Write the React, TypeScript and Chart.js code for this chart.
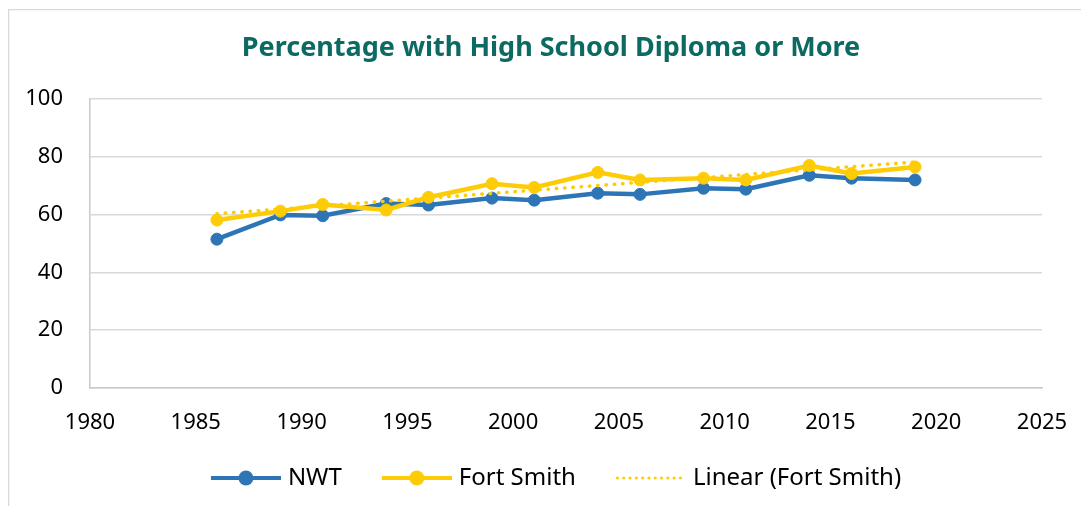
import React, { useEffect, useRef } from "react";
import { Chart, registerables } from "chart.js";

Chart.register(...registerables);

// ---- data ----
const years = [1986, 1989, 1991, 1994, 1996, 1999, 2001, 2004, 2006, 2009, 2011, 2014, 2016, 2019];
const nwtValues = [51.5, 59.9, 59.6, 63.8, 63.3, 65.7, 65.0, 67.4, 67.0, 69.1, 68.8, 73.6, 72.6, 72.0];
const fortSmithValues = [58.1, 61.2, 63.5, 61.6, 66.0, 70.7, 69.4, 74.6, 72.0, 72.6, 72.0, 77.0, 74.2, 76.5];
const trendYears = [1986, 2019];
const trendValues = [60.3, 78.2];
const seriesLabels = ["NWT", "Fort Smith", "Linear (Fort Smith)"];
const titleText = "Percentage with High School Diploma or More";
const xTickRange = [1980, 2025, 5];
const yTickRange = [0, 100, 20];

const BLUE = "#2E75B6";
const YELLOW = "#FECC07";
const FONT = "'Noto Sans', 'Open Sans', sans-serif";

function makeMarker(color: string, kind: "line" | "dots"): HTMLCanvasElement {
  const c = document.createElement("canvas");
  c.width = 85;
  c.height = 18;
  const ctx = c.getContext("2d")!;
  ctx.strokeStyle = color;
  ctx.fillStyle = color;
  const x0 = 15;
  const cy = 9;
  if (kind === "line") {
    ctx.lineWidth = 4;
    ctx.beginPath();
    ctx.moveTo(x0, cy);
    ctx.lineTo(x0 + 70, cy);
    ctx.stroke();
    ctx.beginPath();
    ctx.arc(x0 + 35, cy, 7.5, 0, Math.PI * 2);
    ctx.fill();
  } else {
    for (let x = x0 + 1.5; x < x0 + 70; x += 6.3) {
      ctx.beginPath();
      ctx.arc(x, cy, 1.6, 0, Math.PI * 2);
      ctx.fill();
    }
  }
  return c;
}

export default function App() {
  const ref = useRef<HTMLCanvasElement | null>(null);

  useEffect(() => {
    if (!ref.current) return;
    const markers = [makeMarker(BLUE, "line"), makeMarker(YELLOW, "line"), makeMarker(YELLOW, "dots")];

    const framePlugin = {
      id: "frame",
      beforeDraw(chart: any) {
        const ctx = chart.ctx;
        ctx.save();
        ctx.strokeStyle = "#D9D9D9";
        ctx.lineWidth = 1.3;
        ctx.beginPath();
        ctx.moveTo(0.6, chart.height);
        ctx.lineTo(0.6, 1.6);
        ctx.lineTo(chart.width, 1.6);
        ctx.stroke();
        ctx.restore();
      },
    };

    const chart = new Chart(ref.current, {
      type: "line",
      data: {
        datasets: [
          {
            label: seriesLabels[0],
            data: years.map((y, i) => ({ x: y, y: nwtValues[i] })),
            borderColor: BLUE,
            backgroundColor: BLUE,
            borderWidth: 4.5,
            pointRadius: 6,
            pointBorderWidth: 1,
            pointBorderColor: BLUE,
            pointBackgroundColor: BLUE,
            tension: 0,
            order: 2,
          },
          {
            label: seriesLabels[1],
            data: years.map((y, i) => ({ x: y, y: fortSmithValues[i] })),
            borderColor: YELLOW,
            backgroundColor: YELLOW,
            borderWidth: 4.5,
            pointRadius: 6,
            pointBorderWidth: 1,
            pointBorderColor: YELLOW,
            pointBackgroundColor: YELLOW,
            tension: 0,
            order: 1,
          },
          {
            label: seriesLabels[2],
            data: trendYears.map((y, i) => ({ x: y, y: trendValues[i] })),
            borderColor: YELLOW,
            borderWidth: 3.5,
            borderDash: [0.5, 7.8],
            borderCapStyle: "round",
            pointRadius: 0,
            tension: 0,
            order: 0,
          },
        ],
      },
      options: {
        responsive: false,
        animation: false,
        layout: { padding: { left: 13, right: 0, top: 0, bottom: 6 } },
        plugins: {
          tooltip: { enabled: false },
          title: {
            display: true,
            text: titleText,
            color: "#0B6A62",
            font: { family: FONT, size: 27, weight: "bold", lineHeight: 1.2 },
            padding: { top: 24, bottom: 34.6 },
          },
          legend: {
            position: "bottom",
            labels: {
              usePointStyle: true,
              pointStyleWidth: 75,
              padding: 30,
              color: "#000",
              font: { family: FONT, size: 24 },
              generateLabels: () =>
                seriesLabels.map((t, i) => ({
                  text: t,
                  pointStyle: markers[i],
                  datasetIndex: i,
                  hidden: false,
                  lineWidth: 0,
                  fontColor: "#000",
                })),
            },
          },
        },
        scales: {
          x: {
            type: "linear",
            min: xTickRange[0],
            max: xTickRange[1],
            afterFit: (s: any) => {
              s.height = 48;
              s.paddingLeft = 0;
              s.paddingRight = 0;
            },
            ticks: {
              stepSize: xTickRange[2],
              padding: 22,
              color: "#000",
              font: { family: FONT, size: 22 },
              maxRotation: 0,
              callback: (v: any) => String(v),
            },
            grid: { display: false, drawTicks: false },
            border: { display: true, color: "#C9C9C9", width: 1.5 },
          },
          y: {
            min: yTickRange[0],
            max: yTickRange[1],
            afterFit: (s: any) => {
              s.width = 69;
            },
            ticks: {
              stepSize: yTickRange[2],
              padding: 27,
              color: "#000",
              font: { family: FONT, size: 22 },
            },
            grid: { color: "#D9D9D9", lineWidth: 1.5, drawTicks: false },
            border: { display: true, color: "#C9C9C9", width: 1.5 },
          },
          yRight: {
            type: "linear",
            position: "right",
            display: true,
            afterFit: (s: any) => {
              s.width = 39;
            },
            ticks: { display: false },
            grid: { display: false, drawTicks: false },
            border: { display: false },
          },
        },
      } as any,
      plugins: [framePlugin],
    });
    return () => chart.destroy();
  }, []);

  return <canvas ref={ref} width={1073} height={498} style={{ display: "block" }} />;
}
